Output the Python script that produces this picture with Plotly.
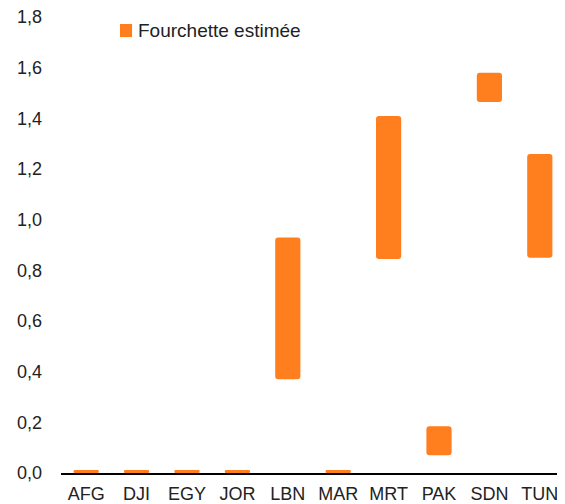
import plotly.graph_objects as go

countries = ["AFG", "DJI", "EGY", "JOR", "LBN", "MAR", "MRT", "PAK", "SDN", "TUN"]
low = [0.0, 0.0, 0.0, 0.0, 0.37, 0.0, 0.845, 0.07, 1.465, 0.85]
high = [0.012, 0.012, 0.012, 0.012, 0.93, 0.012, 1.41, 0.185, 1.58, 1.26]
tick_vals = [0.0, 0.2, 0.4, 0.6, 0.8, 1.0, 1.2, 1.4, 1.6, 1.8]
tick_text = ["0,0", "0,2", "0,4", "0,6", "0,8", "1,0", "1,2", "1,4", "1,6", "1,8"]
legend_label = "Fourchette estimée"

orange = "#FF7F1F"
textcol = "#222222"

fig = go.Figure()
fig.add_trace(go.Bar(
    x=countries,
    y=[h - l for h, l in zip(high, low)],
    base=low,
    name=legend_label,
    marker=dict(color=orange, cornerradius=3, line=dict(width=0)),
    showlegend=False,
))

# manual legend (square + label)
fig.add_shape(type="rect", xref="paper", yref="paper",
              x0=0.117, x1=0.141, y0=0.956, y1=0.9846,
              fillcolor=orange, line=dict(width=0), layer="above")
fig.add_annotation(xref="paper", yref="paper", x=0.1488, y=0.970,
                   xanchor="left", yanchor="middle", showarrow=False,
                   text=legend_label, font=dict(size=19, color=textcol))

fig.update_layout(
    width=557, height=496,
    margin=dict(l=53, r=0, t=9, b=31, autoexpand=False),
    paper_bgcolor="white", plot_bgcolor="white",
    bargap=0.5,
    font=dict(family="Liberation Sans, Arial, sans-serif", size=18, color=textcol),
    showlegend=False,
    xaxis=dict(showline=True, linecolor="black", linewidth=1.5,
               ticks="", showgrid=False, zeroline=False,
               ticklabelstandoff=4, ticklabeloverflow="allow",
               tickfont=dict(size=18)),
    yaxis=dict(range=[0, 1.8005], tickvals=tick_vals, ticktext=tick_text,
               showgrid=False, zeroline=False, showline=False, ticks="",
               ticklabelstandoff=18, ticklabeloverflow="allow",
               tickfont=dict(size=18)),
)

fig.write_html("out.html")
